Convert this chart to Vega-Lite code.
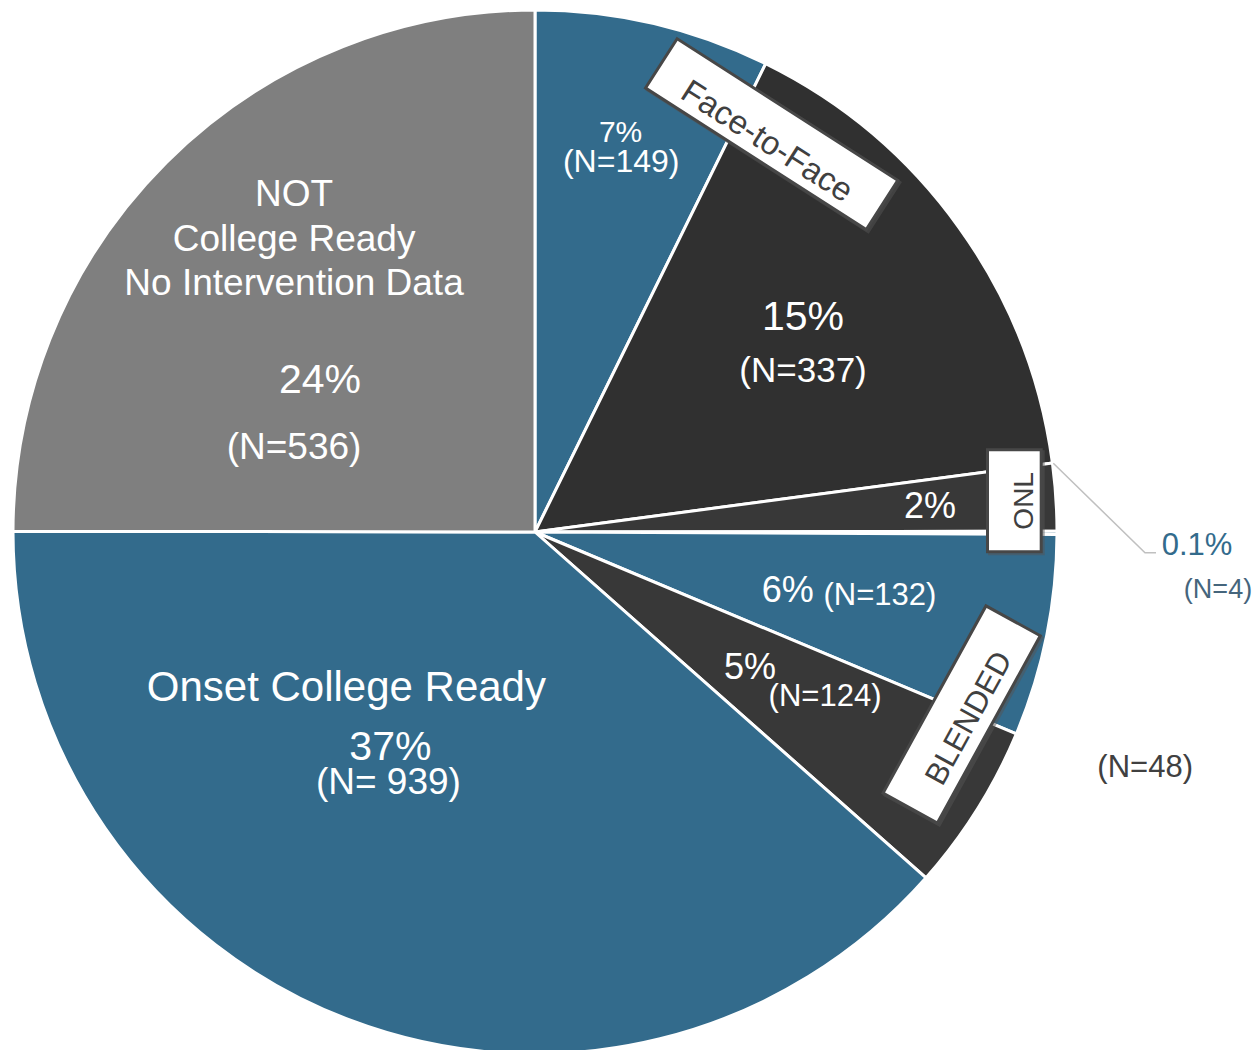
{
  "$schema": "https://vega.github.io/schema/vega-lite/v6.json",
  "width": 1070,
  "height": 1064,
  "autosize": "none",
  "padding": {"left": 0, "top": 0, "right": 187, "bottom": 0},
  "background": "white",
  "config": {"view": {"stroke": null}, "text": {"font": "Liberation Sans"}},
  "layer": [
    {
      "data": {
        "values": [
          {"ord": 1, "seg": "F2F ready", "pct": 7, "n": 149, "pct_label": "7%", "n_label": "(N=149)", "name": ""},
          {"ord": 2, "seg": "F2F not ready", "pct": 15, "n": 337, "pct_label": "15%", "n_label": "(N=337)", "name": ""},
          {"ord": 3, "seg": "ONL not ready", "pct": 2, "n": 48, "pct_label": "2%", "n_label": "(N=48)", "name": ""},
          {"ord": 4, "seg": "ONL ready", "pct": 0.1, "n": 4, "pct_label": "0.1%", "n_label": "(N=4)", "name": ""},
          {"ord": 5, "seg": "BLENDED ready", "pct": 6, "n": 132, "pct_label": "6%", "n_label": "(N=132)", "name": ""},
          {"ord": 6, "seg": "BLENDED not ready", "pct": 5, "n": 124, "pct_label": "5%", "n_label": "(N=124)", "name": ""},
          {"ord": 7, "seg": "Onset College Ready", "pct": 37, "n": 939, "pct_label": "37%", "n_label": "(N= 939)", "name": "Onset College Ready"},
          {"ord": 8, "seg": "NOT College Ready", "pct": 24, "n": 536, "pct_label": "24%", "n_label": "(N=536)", "name": "NOT\nCollege Ready\nNo Intervention Data"}
        ]
      },
      "encoding": {
        "theta": {"field": "pct", "type": "quantitative", "stack": true},
        "order": {"field": "ord", "type": "quantitative"},
        "detail": {"field": "seg", "type": "nominal"}
      },
      "layer": [
        {
          "mark": {"type": "arc", "outerRadius": 522, "stroke": "white", "strokeWidth": 3, "strokeJoin": "round"},
          "encoding": {
            "color": {
              "field": "seg", "type": "nominal", "legend": null,
              "scale": {
                "domain": ["F2F ready", "F2F not ready", "ONL not ready", "ONL ready", "BLENDED ready", "BLENDED not ready", "Onset College Ready", "NOT College Ready"],
                "range": ["#336b8c", "#303030", "#383838", "#336b8c", "#336b8c", "#383838", "#336b8c", "#7f7f7f"]
              }
            }
          }
        },
        {"mark": {"type": "text", "radius": 408, "dx": -7, "dy": -2, "fontSize": 30, "fill": "white"},
         "encoding": {"text": {"condition": {"test": "datum.seg === 'F2F ready'", "field": "pct_label"}, "value": ""}}},
        {"mark": {"type": "text", "radius": 380, "dx": 0, "dy": 0, "fontSize": 32, "fill": "white"},
         "encoding": {"text": {"condition": {"test": "datum.seg === 'F2F ready'", "field": "n_label"}, "value": ""}}},
        {"mark": {"type": "text", "radius": 330, "dx": 0, "dy": -21.6, "fontSize": 41, "fill": "white"},
         "encoding": {"text": {"condition": {"test": "datum.seg === 'F2F not ready'", "field": "pct_label"}, "value": ""}}},
        {"mark": {"type": "text", "radius": 330, "dx": 0, "dy": 31.4, "fontSize": 35, "fill": "white"},
         "encoding": {"text": {"condition": {"test": "datum.seg === 'F2F not ready'", "field": "n_label"}, "value": ""}}},
        {"mark": {"type": "text", "radius": 396, "dx": 0, "dy": 1.5, "fontSize": 36, "fill": "white"},
         "encoding": {"text": {"condition": {"test": "datum.seg === 'ONL not ready'", "field": "pct_label"}, "value": ""}}},
        {"mark": {"type": "text", "radius": 593, "dx": 18.5, "dy": 275.7, "fontSize": 31, "fill": "#404040"},
         "encoding": {"text": {"condition": {"test": "datum.seg === 'ONL not ready'", "field": "n_label"}, "value": ""}}},
        {"mark": {"type": "text", "radius": 662, "dx": 0, "dy": 13, "fontSize": 31, "fill": "#336b8c"},
         "encoding": {"text": {"condition": {"test": "datum.seg === 'ONL ready'", "field": "pct_label"}, "value": ""}}},
        {"mark": {"type": "text", "radius": 683, "dx": 0, "dy": 57, "fontSize": 27, "fill": "#45657c"},
         "encoding": {"text": {"condition": {"test": "datum.seg === 'ONL ready'", "field": "n_label"}, "value": ""}}},
        {"mark": {"type": "text", "radius": 260, "dx": -2, "dy": 7, "fontSize": 36, "fill": "white"},
         "encoding": {"text": {"condition": {"test": "datum.seg === 'BLENDED ready'", "field": "pct_label"}, "value": ""}}},
        {"mark": {"type": "text", "radius": 351, "dx": 1, "dy": -6, "fontSize": 31, "fill": "white"},
         "encoding": {"text": {"condition": {"test": "datum.seg === 'BLENDED ready'", "field": "n_label"}, "value": ""}}},
        {"mark": {"type": "text", "radius": 254, "dx": 0, "dy": 1, "fontSize": 36, "fill": "white"},
         "encoding": {"text": {"condition": {"test": "datum.seg === 'BLENDED not ready'", "field": "pct_label"}, "value": ""}}},
        {"mark": {"type": "text", "radius": 333, "dx": 8, "dy": -12, "fontSize": 31, "fill": "white"},
         "encoding": {"text": {"condition": {"test": "datum.seg === 'BLENDED not ready'", "field": "n_label"}, "value": ""}}},
        {"mark": {"type": "text", "radius": 230, "dx": -107, "dy": -59, "fontSize": 42, "fill": "white"},
         "encoding": {"text": {"condition": {"test": "datum.seg === 'Onset College Ready'", "field": "name"}, "value": ""}}},
        {"mark": {"type": "text", "radius": 230, "dx": -63, "dy": 1, "fontSize": 41, "fill": "white"},
         "encoding": {"text": {"condition": {"test": "datum.seg === 'Onset College Ready'", "field": "pct_label"}, "value": ""}}},
        {"mark": {"type": "text", "radius": 230, "dx": -65, "dy": 36, "fontSize": 37, "fill": "white"},
         "encoding": {"text": {"condition": {"test": "datum.seg === 'Onset College Ready'", "field": "n_label"}, "value": ""}}},
        {"mark": {"type": "text", "radius": 300, "dx": -29, "dy": -124.5, "fontSize": 37, "fill": "white", "lineBreak": "\n", "lineHeight": 44.5},
         "encoding": {"text": {"condition": {"test": "datum.seg === 'NOT College Ready'", "field": "name"}, "value": ""}}},
        {"mark": {"type": "text", "radius": 300, "dx": -3, "dy": 61, "fontSize": 41, "fill": "white"},
         "encoding": {"text": {"condition": {"test": "datum.seg === 'NOT College Ready'", "field": "pct_label"}, "value": ""}}},
        {"mark": {"type": "text", "radius": 300, "dx": -29, "dy": 128, "fontSize": 37, "fill": "white"},
         "encoding": {"text": {"condition": {"test": "datum.seg === 'NOT College Ready'", "field": "n_label"}, "value": ""}}}
      ]
    },
    {
      "data": {"values": [{"label": "0.1%"}]},
      "mark": {"type": "point", "shape": "M518.3,-68.7L610,20.7L621,20.7", "size": 4, "filled": false, "stroke": "#c0c0c0", "strokeWidth": 1.5, "opacity": 1},
      "encoding": {}
    },
    {
      "data": {"values": [{"label": "Face-to-Face"}]},
      "layer": [
        {"mark": {"type": "point", "shape": "M-146.9,-491.9L115.4,-491.9L115.4,-433.4L-146.9,-433.4Z", "size": 4, "angle": 32.7, "filled": true, "fill": "#555555", "stroke": "#555555", "strokeWidth": 3, "opacity": 0.5, "xOffset": 2, "yOffset": 2}, "encoding": {}},
        {"mark": {"type": "point", "shape": "M-146.9,-491.9L115.4,-491.9L115.4,-433.4L-146.9,-433.4Z", "size": 4, "angle": 32.7, "filled": true, "fill": "white", "stroke": "#474747", "strokeWidth": 3, "opacity": 1}, "encoding": {}},
        {"mark": {"type": "text", "theta": 0.5367, "radius": 462.9, "angle": 32.7, "dy": 9, "fontSize": 33, "fill": "#404040"}, "encoding": {"text": {"field": "label"}}}
      ]
    },
    {
      "data": {"values": [{"label": "ONL"}]},
      "layer": [
        {"mark": {"type": "point", "shape": "M-82.2,-506.2L19.8,-506.2L19.8,-452.5L-82.2,-452.5Z", "size": 4, "angle": 90, "filled": true, "fill": "#555555", "stroke": "#555555", "strokeWidth": 3, "opacity": 0.5, "xOffset": 2, "yOffset": 2}, "encoding": {}},
        {"mark": {"type": "point", "shape": "M-82.2,-506.2L19.8,-506.2L19.8,-452.5L-82.2,-452.5Z", "size": 4, "angle": 90, "filled": true, "fill": "white", "stroke": "#474747", "strokeWidth": 3, "opacity": 1}, "encoding": {}},
        {"mark": {"type": "text", "theta": 1.5059, "radius": 480.3, "angle": 270, "dy": 11, "fontSize": 28, "fill": "#404040"}, "encoding": {"text": {"field": "label"}}}
      ]
    },
    {
      "data": {"values": [{"label": "BLENDED"}]},
      "layer": [
        {"mark": {"type": "point", "shape": "M-152.5,-492.8L61.2,-492.8L61.2,-430.8L-152.5,-430.8Z", "size": 4, "angle": 118.8, "filled": true, "fill": "#555555", "stroke": "#555555", "strokeWidth": 3, "opacity": 0.5, "xOffset": 2, "yOffset": 2}, "encoding": {}},
        {"mark": {"type": "point", "shape": "M-152.5,-492.8L61.2,-492.8L61.2,-430.8L-152.5,-430.8Z", "size": 4, "angle": 118.8, "filled": true, "fill": "white", "stroke": "#474747", "strokeWidth": 3, "opacity": 1}, "encoding": {}},
        {"mark": {"type": "text", "theta": 1.9748, "radius": 464.0, "angle": 298.8, "dy": 9, "fontSize": 31, "fill": "#404040"}, "encoding": {"text": {"field": "label"}}}
      ]
    }
  ]
}
